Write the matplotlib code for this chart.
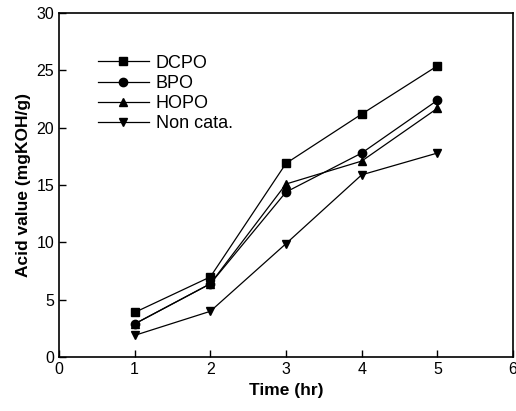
import matplotlib
matplotlib.use("Agg")
import matplotlib.pyplot as plt

plt.rcParams['font.family'] = ['Liberation Sans', 'DejaVu Sans']

# data
time_hr = [1, 2, 3, 4, 5]
dcpo = [3.9, 7.0, 16.9, 21.2, 25.4]
bpo = [2.9, 6.4, 14.4, 17.8, 22.4]
hopo = [2.9, 6.4, 15.1, 17.1, 21.7]
non_cata = [1.9, 4.0, 9.9, 15.9, 17.8]

series = [
    ("DCPO", dcpo, "s"),
    ("BPO", bpo, "o"),
    ("HOPO", hopo, "^"),
    ("Non cata.", non_cata, "v"),
]

fig = plt.figure(figsize=(5.16, 4.11), dpi=100)
ax = fig.add_axes([0.1143, 0.131, 0.88, 0.837])

for name, vals, mk in series:
    ax.plot(time_hr, vals, color="black", linewidth=0.9, marker=mk,
            markersize=6, label=name)

ax.set_xlim(0, 6)
ax.set_ylim(0, 30)
ax.set_xticks(range(0, 7))
ax.set_yticks(range(0, 31, 5))
ax.tick_params(direction="in", length=5, width=1, labelsize=11.5)
for s in ax.spines.values():
    s.set_linewidth(1.2)

ax.set_xlabel("Time (hr)", fontsize=12.5, fontweight="bold")
ax.set_ylabel("Acid value (mgKOH/g)", fontsize=12.5, fontweight="bold")

ax.legend(loc="upper left", bbox_to_anchor=(0.07, 0.9), frameon=False,
          fontsize=13, handlelength=2.8, labelspacing=0.17,
          handletextpad=0.4, borderaxespad=0)

fig.savefig("out.png", dpi=100)
